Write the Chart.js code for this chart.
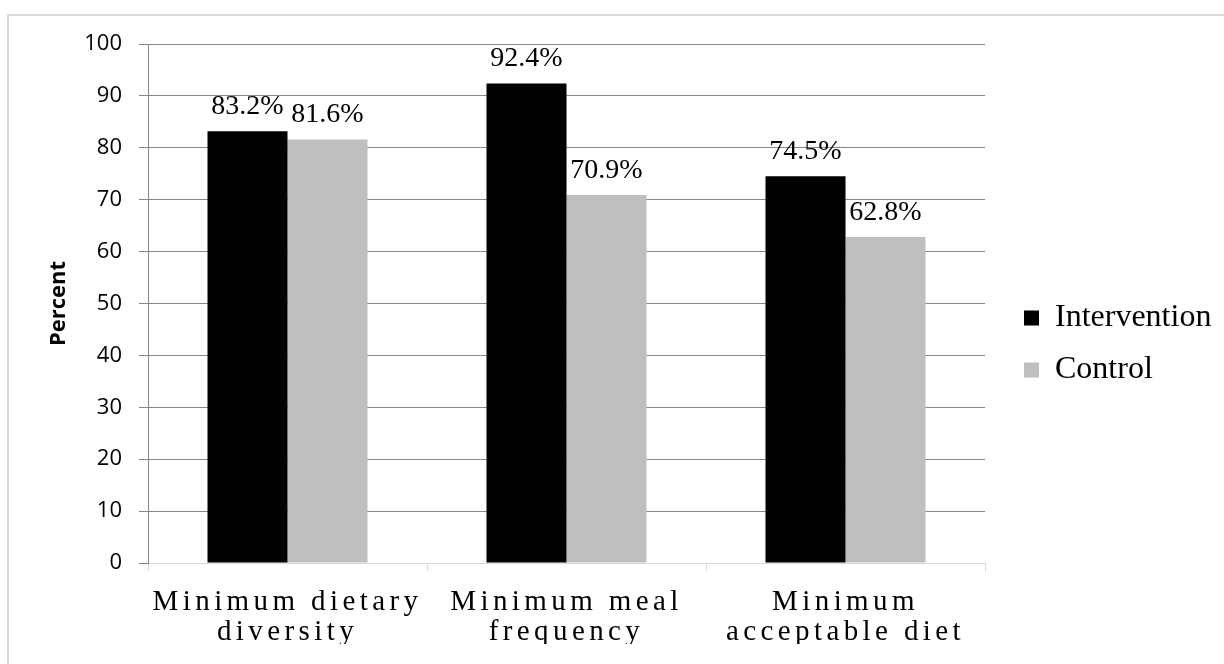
<!DOCTYPE html>
<html>
<head>
<meta charset="utf-8">
<script src="https://cdn.jsdelivr.net/npm/chart.js@4/dist/chart.umd.min.js"></script>
<style>
  html, body { margin: 0; padding: 0; background: #ffffff; overflow: hidden; }
  #frame { position: absolute; left: 7px; top: 14px; width: 1300px; height: 700px;
           border: 2px solid #d9d9d9; box-sizing: border-box; }
  #wrap { position: absolute; left: 0; top: 0; width: 1224px; height: 664px; }
</style>
</head>
<body>
<div id="frame"></div>
<div id="wrap"><canvas id="chart" width="1224" height="664"></canvas></div>
<script>
// Feeding indicators by study arm (percent of children)
const categories = [
  ['Minimum dietary', 'diversity'],
  ['Minimum meal', 'frequency'],
  ['Minimum', 'acceptable diet']
];
const seriesNames = ['Intervention', 'Control'];
const interventionValues = [83.2, 92.4, 74.5];
const controlValues = [81.6, 70.9, 62.8];
const seriesColors = ['#000000', '#bfbfbf'];
const yMin = 0;
const yMax = 100;
const yStep = 10;
const yTitle = 'Percent';

// Legend geometry: the legend's left edge sits at legendLeft, so its
// overall width decides how much right padding the layout needs.
const legendFontSize = 32;
const legendBox = 15;
const legendPad = 20;
const legendLeft = 1004;
const plotRight = 985;
const canvasW = 1224;
const measureCtx = document.createElement('canvas').getContext('2d');
measureCtx.font = legendFontSize + 'px "Liberation Serif"';
const legendTextW = Math.max(...seriesNames.map(n => measureCtx.measureText(n).width));
const legendW = legendPad + legendBox + legendFontSize / 2 + legendTextW + 10;
const rightPad = Math.max(0, canvasW - legendLeft - legendW);

// Percentage labels above each bar, taken from the bar's own value
const valueLabels = {
  id: 'valueLabels',
  afterDatasetsDraw(chart) {
    const ctx = chart.ctx;
    ctx.save();
    ctx.font = '28px "Liberation Serif"';
    ctx.fillStyle = '#000000';
    ctx.textAlign = 'center';
    ctx.textBaseline = 'alphabetic';
    chart.data.datasets.forEach((ds, di) => {
      chart.getDatasetMeta(di).data.forEach((bar, i) => {
        ctx.fillText(ds.data[i].toFixed(1) + '%', bar.x, bar.y - 17.5);
      });
    });
    ctx.restore();
    // the category labels (ticks z: 1) are painted after this hook, spaced out
    ctx.letterSpacing = '4.4px';
  },
  afterDraw(chart) {
    chart.ctx.letterSpacing = '0px';
  }
};

new Chart(document.getElementById('chart'), {
  type: 'bar',
  data: {
    labels: categories,
    datasets: [
      { label: seriesNames[0], data: interventionValues, backgroundColor: seriesColors[0],
        borderWidth: 0, barPercentage: 1, categoryPercentage: 0.5735 },
      { label: seriesNames[1], data: controlValues, backgroundColor: seriesColors[1],
        borderWidth: 0, barPercentage: 1, categoryPercentage: 0.5735 }
    ]
  },
  options: {
    responsive: false,
    animation: false,
    devicePixelRatio: 1,
    layout: { padding: { top: 44, bottom: 20, left: 0, right: rightPad } },
    plugins: {
      tooltip: { enabled: false },
      legend: {
        position: 'right',
        align: 'center',
        maxWidth: 400,
        labels: {
          boxWidth: legendBox,
          boxHeight: legendBox,
          padding: legendPad,
          color: '#000000',
          font: { family: '"Liberation Serif"', size: legendFontSize }
        }
      }
    },
    scales: {
      x: {
        offset: true,
        grid: { display: true, offset: true, drawOnChartArea: false, color: '#d9d9d9', tickLength: 8 },
        border: { display: true, color: '#d9d9d9' },
        ticks: {
          z: 1,
          padding: 16,
          color: '#000000',
          maxRotation: 0,
          autoSkip: false,
          font: { family: '"Liberation Serif"', size: 29, lineHeight: 1.034 }
        },
        afterFit(s) { s.height = 81; }
      },
      y: {
        position: 'left',
        min: yMin,
        max: yMax,
        ticks: {
          stepSize: yStep,
          padding: 17,
          color: '#000000',
          font: { family: '"Open Sans"', size: 22 }
        },
        grid: {
          color: c => (c.tick && c.tick.value === 0 ? '#d9d9d9' : '#868686'),
          tickColor: '#868686',
          tickLength: 9
        },
        border: { display: true, color: '#868686' },
        title: {
          display: true,
          text: yTitle,
          color: '#000000',
          padding: { top: 46, bottom: 0 },
          font: { family: '"Open Sans"', size: 22, weight: 'bold', lineHeight: 1.2 }
        },
        afterFit(s) { s.width = 148; }
      },
      gap: {
        type: 'linear',
        position: 'right',
        display: true,
        grid: { display: false, drawTicks: false },
        border: { display: false },
        ticks: { display: false },
        afterFit(s) { s.width = legendLeft - plotRight; }
      }
    }
  },
  plugins: [valueLabels]
});
</script>
</body>
</html>
